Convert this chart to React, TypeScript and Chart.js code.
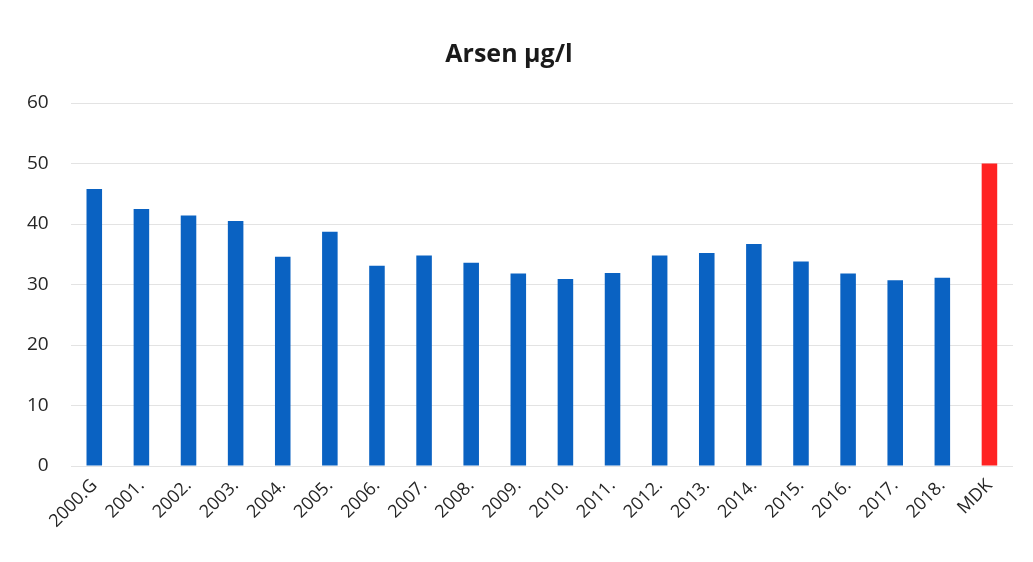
import React, { useEffect, useRef } from "react";
import { Chart, registerables } from "chart.js";

Chart.register(...registerables);

const categories = ["2000.G", "2001.", "2002.", "2003.", "2004.", "2005.", "2006.", "2007.", "2008.", "2009.", "2010.", "2011.", "2012.", "2013.", "2014.", "2015.", "2016.", "2017.", "2018.", "MDK"];
const arsenValues = [45.8, 42.5, 41.4, 40.5, 34.6, 38.7, 33.1, 34.8, 33.6, 31.8, 30.9, 31.9, 34.8, 35.2, 36.7, 33.8, 31.8, 30.7, 31.1, 50];
const barColors = categories.map((c) => (c === "MDK" ? "#ff2222" : "#0a62c2"));
const yTicks = [0, 10, 20, 30, 40, 50, 60];

export default function App() {
  const ref = useRef<HTMLCanvasElement | null>(null);
  useEffect(() => {
    if (!ref.current) return;
    const chart = new Chart(ref.current, {
      type: "bar",
      data: {
        labels: categories,
        datasets: [
          {
            data: arsenValues,
            backgroundColor: barColors,
            barPercentage: 0.33,
            categoryPercentage: 1,
          },
        ],
      },
      options: {
        animation: false,
        responsive: false,
        layout: { padding: { left: 5, right: 20, top: 40, bottom: 21 } },
        plugins: {
          legend: { display: false },
          tooltip: { enabled: false },
          title: {
            display: true,
            text: "Arsen µg/l",
            color: "#1a1a1a",
            font: { family: "Open Sans", size: 25, weight: "bold" },
            padding: { top: 0, bottom: 33 },
          },
        },
        scales: {
          x: {
            grid: { display: false, drawTicks: false },
            border: { display: false },
            ticks: {
              color: "#262626",
              font: { family: "Open Sans", size: 18 },
              maxRotation: 45,
              minRotation: 45,
              padding: 9,
              autoSkip: false,
            },
          },
          y: {
            min: 0,
            max: 60,
            afterBuildTicks: (axis: any) => {
              axis.ticks = yTicks.map((v) => ({ value: v }));
            },
            grid: { color: "#e3e3e3", drawTicks: false },
            border: { display: false },
            ticks: {
              color: "#262626",
              font: { family: "Open Sans", size: 19 },
              padding: 22,
            },
          },
        },
      },
    });
    return () => chart.destroy();
  }, []);
  return (
    <div style={{ position: "fixed", left: 0, top: 0, width: 1033, height: 562, background: "#fff" }}>
      <canvas ref={ref} width={1033} height={562} style={{ width: 1033, height: 562 }} />
    </div>
  );
}
